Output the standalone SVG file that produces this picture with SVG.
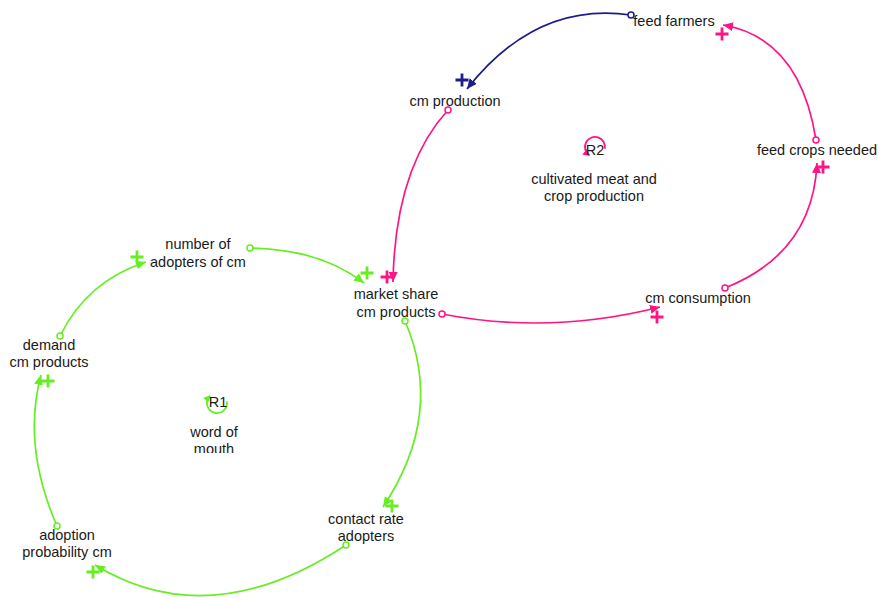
<svg xmlns="http://www.w3.org/2000/svg" xmlns:xlink="http://www.w3.org/1999/xlink" width="878" height="598" viewBox="0 0 878 598">
  <style>
    text { font-family: "Liberation Sans", Arial, sans-serif; font-size: 14.5px; fill: #1a1a1a; text-anchor: middle; }
    .link { fill: none; stroke-width: 1.7; }
    .green { stroke: #66ee22; }
    .pink { stroke: #ff1485; }
    .navy { stroke: #1c1c8c; }
    .g-link { marker-start: url(#tailG); marker-end: url(#headG); }
    .p-link { marker-start: url(#tailP); marker-end: url(#headP); }
    .n-link { marker-start: url(#tailN); marker-end: url(#headN); }
    .sign { stroke-width: 2.8; fill: none; }
    .loop { fill: none; stroke-width: 1.8; }
  </style>
  <defs>
    <marker id="headG" markerUnits="userSpaceOnUse" markerWidth="12" markerHeight="10" refX="10" refY="4.5" orient="auto" viewBox="0 0 12 10">
      <path d="M0 0 L10 4.5 L0 9 Z" fill="#66ee22"/>
    </marker>
    <marker id="headP" markerUnits="userSpaceOnUse" markerWidth="12" markerHeight="10" refX="10" refY="4.5" orient="auto" viewBox="0 0 12 10">
      <path d="M0 0 L10 4.5 L0 9 Z" fill="#ff1485"/>
    </marker>
    <marker id="headN" markerUnits="userSpaceOnUse" markerWidth="12" markerHeight="10" refX="10" refY="4.5" orient="auto" viewBox="0 0 12 10">
      <path d="M0 0 L10 4.5 L0 9 Z" fill="#1c1c8c"/>
    </marker>
    <marker id="loopHeadG" markerUnits="userSpaceOnUse" markerWidth="9" markerHeight="8" refX="6" refY="3.5" orient="auto" viewBox="0 0 9 8">
      <path d="M0 0 L7 3.5 L0 7 Z" fill="#66ee22"/>
    </marker>
    <marker id="loopHeadP" markerUnits="userSpaceOnUse" markerWidth="9" markerHeight="8" refX="6" refY="3.5" orient="auto" viewBox="0 0 9 8">
      <path d="M0 0 L7 3.5 L0 7 Z" fill="#ff1485"/>
    </marker>
    <marker id="tailG" markerUnits="userSpaceOnUse" markerWidth="10" markerHeight="10" refX="5" refY="5" viewBox="0 0 10 10">
      <circle cx="5" cy="5" r="3" fill="#fff" stroke="#66ee22" stroke-width="1.5"/>
    </marker>
    <marker id="tailP" markerUnits="userSpaceOnUse" markerWidth="10" markerHeight="10" refX="5" refY="5" viewBox="0 0 10 10">
      <circle cx="5" cy="5" r="3" fill="#fff" stroke="#ff1485" stroke-width="1.5"/>
    </marker>
    <marker id="tailN" markerUnits="userSpaceOnUse" markerWidth="10" markerHeight="10" refX="5" refY="5" viewBox="0 0 10 10">
      <circle cx="5" cy="5" r="3" fill="#fff" stroke="#1c1c8c" stroke-width="1.5"/>
    </marker>
    <path id="plus" d="M-6.5 0 H6.5 M0 -6.5 V6.5"/>
    <clipPath id="mouthClip">
      <rect x="150" y="415" width="130" height="38"/>
    </clipPath>
  </defs>

  <rect width="878" height="598" fill="#fff"/>

  <!-- causal links -->
  <g id="connectors">
    <!-- R2 loop (pink / navy) -->
    <path class="link navy n-link" d="M631 15 Q536 1 467 89"/>
    <path class="link pink p-link" d="M816 140 Q800 38 723 25"/>
    <path class="link pink p-link" d="M725 288 Q813 253 817 163"/>
    <path class="link pink p-link" d="M448 110 Q395 168 393 282"/>
    <path class="link pink p-link" d="M442 314 Q550 335 660 307"/>
    <!-- R1 loop (green) -->
    <path class="link green g-link" d="M250 248 Q320 249 364 283"/>
    <path class="link green g-link" d="M405 321 Q445 414 383 507"/>
    <path class="link green g-link" d="M346 545 Q210 635 95 565"/>
    <path class="link green g-link" d="M57 526 Q22 446 41 375"/>
    <path class="link green g-link" d="M60 336 Q87 281 146 262"/>

    <!-- polarity signs -->
    <use href="#plus" x="462" y="80" class="sign navy"/>
    <use href="#plus" x="722" y="34" class="sign pink"/>
    <use href="#plus" x="823" y="167" class="sign pink"/>
    <use href="#plus" x="387" y="277" class="sign pink"/>
    <use href="#plus" x="657" y="317" class="sign pink"/>
    <use href="#plus" x="367" y="273" class="sign green"/>
    <use href="#plus" x="392" y="506" class="sign green"/>
    <use href="#plus" x="93" y="572" class="sign green"/>
    <use href="#plus" x="48" y="381" class="sign green"/>
    <use href="#plus" x="137" y="257" class="sign green"/>
  </g>

  <!-- variables -->
  <g id="feed-farmers"><text x="674" y="26">feed farmers</text></g>
  <g id="cm-production"><text x="455" y="106">cm production</text></g>
  <g id="feed-crops-needed"><text x="817" y="155">feed crops needed</text></g>
  <g id="cm-consumption"><text x="698" y="303">cm consumption</text></g>
  <g id="market-share">
    <text x="396" y="299">market share</text>
    <text x="396" y="317">cm products</text>
  </g>
  <g id="number-of-adopters">
    <text x="198" y="249">number of</text>
    <text x="198" y="267">adopters of cm</text>
  </g>
  <g id="demand">
    <text x="49" y="350">demand</text>
    <text x="49" y="367">cm products</text>
  </g>
  <g id="contact-rate">
    <text x="366" y="524">contact rate</text>
    <text x="366" y="541">adopters</text>
  </g>
  <g id="adoption-probability">
    <text x="67" y="540">adoption</text>
    <text x="67" y="557">probability cm</text>
  </g>

  <!-- loop identifiers -->
  <g id="loop-R1">
    <path class="loop" d="M226.9 401.4 A10 10 0 1 1 209.9 396.0" stroke="#66ee22" marker-end="url(#loopHeadG)"/>
    <text x="218" y="407">R1</text>
    <text x="214" y="437">word of</text>
    <text x="214" y="454" clip-path="url(#mouthClip)">mouth</text>
  </g>
  <g id="loop-R2">
    <path class="loop" d="M604.8 148.7 A10 10 0 1 0 589.3 155.2" stroke="#ff1485" marker-end="url(#loopHeadP)"/>
    <text x="595" y="155">R2</text>
    <text x="594" y="184">cultivated meat and</text>
    <text x="594" y="201">crop production</text>
  </g>
</svg>
